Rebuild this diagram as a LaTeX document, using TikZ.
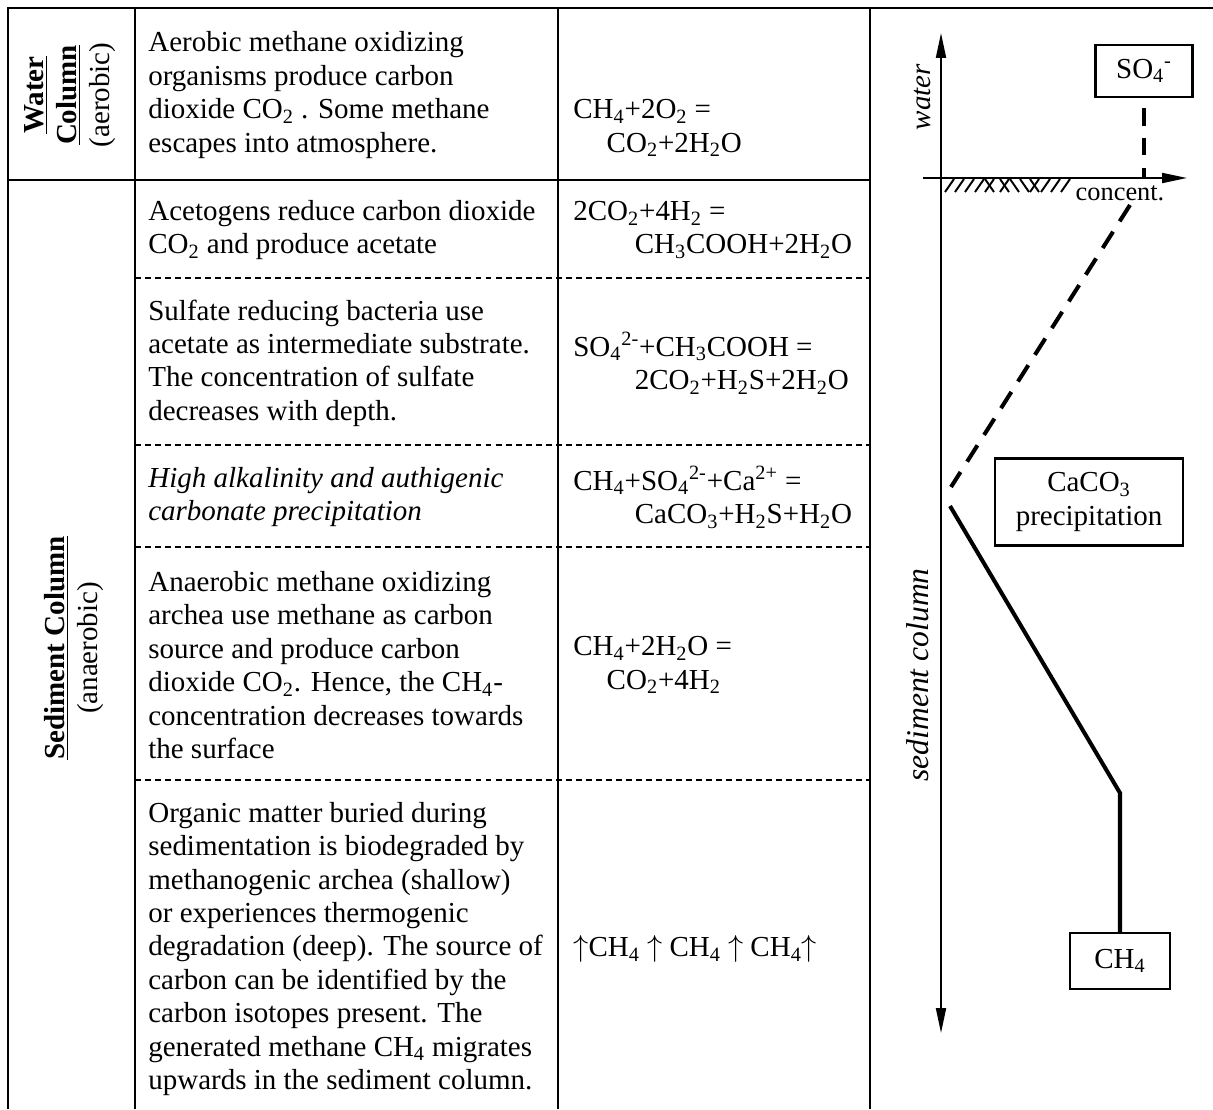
\documentclass[tikz,border=0pt]{standalone}
\usepackage{fontspec}
\setmainfont{Liberation Serif}
\usepackage{tikz}
\usetikzlibrary{arrows.meta,positioning}

\newcommand{\chsub}[1]{\textsubscript{#1}}
\newcommand{\chsup}[1]{\textsuperscript{#1}}
\newcommand{\bodyfont}{\fontsize{16.5}{19}\selectfont}

\begin{document}
\begin{tikzpicture}[x=0.02cm,y=-0.02cm,
    every node/.style={font=\bodyfont},
    txt/.style={align=left,anchor=west,inner sep=0pt},
    hd/.style={rotate=90,align=center,inner sep=0pt},
    box/.style={draw,line width=1.2pt,inner sep=0pt},
    sep/.style={line width=0.6pt,dash pattern=on 3.4pt off 2.3pt},
    prof/.style={line width=2.3pt},
    tip/.style={-{Triangle[length=0.5cm,width=0.2cm]}}]
    \useasboundingbox (0,0) rectangle (1213,1109);

    % Table frame
    \draw[line width=1.4pt] (8,1109) -- (8,8) -- (1213,8);
    \draw[line width=1.1pt] (135,8) -- (135,1109);
    \draw[line width=0.7pt] (558,8) -- (558,1109);
    \draw[line width=1.4pt] (870,8) -- (870,1109);
    \draw[line width=1.1pt] (8,180) -- (870,180);
    \foreach \y in {278,445,547,780}
        \draw[sep] (135,\y) -- (870,\y);

    % Row headers
    \node[hd] (water) at (70,95) {\underline{\textbf{Water}}\\\underline{\textbf{Column}}\\(aerobic)};
    \node[hd] (sediment) at (74,648) {\underline{\textbf{Sediment Column}}\\(anaerobic)};

    % Processes
    \node[txt] (t1) at (148,95) {Aerobic methane oxidizing\\organisms produce carbon\\dioxide CO\chsub{2} . Some methane\\escapes into atmosphere.};
    \node[txt] (t2) at (148,230) {Acetogens reduce carbon dioxide\\CO\chsub{2} and produce acetate};
    \node[txt] (t3) at (148,363) {Sulfate reducing bacteria use\\acetate as intermediate substrate.\\The concentration of sulfate\\decreases with depth.};
    \node[txt,font=\bodyfont\itshape] (t4) at (148,497) {High alkalinity and authigenic\\carbonate precipitation};
    \node[txt] (t5) at (148,665) {Anaerobic methane oxidizing\\archea use methane as carbon\\source and produce carbon\\dioxide CO\chsub{2}. Hence, the CH\chsub{4}-\\concentration decreases towards\\the surface};
    \node[txt] (t6) at (148,949) {Organic matter buried during\\sedimentation is biodegraded by\\methanogenic archea (shallow)\\or experiences thermogenic\\degradation (deep). The source of\\carbon can be identified by the\\carbon isotopes present. The\\generated methane CH\chsub{4} migrates\\upwards in the sediment column.};

    % Reactions
    \node[txt] (e1) at (573,128) {CH\chsub{4}+2O\chsub{2} =\\\hspace*{19pt}CO\chsub{2}+2H\chsub{2}O};
    \node[txt] (e2) at (573,230) {2CO\chsub{2}+4H\chsub{2} =\\\hspace*{35pt}CH\chsub{3}COOH+2H\chsub{2}O};
    \node[txt] (e3) at (573,363) {SO\chsub{4}\chsup{2-}+CH\chsub{3}COOH =\\\hspace*{35pt}2CO\chsub{2}+H\chsub{2}S+2H\chsub{2}O};
    \node[txt] (e4) at (573,497) {CH\chsub{4}+SO\chsub{4}\chsup{2-}+Ca\chsup{2+} =\\\hspace*{35pt}CaCO\chsub{3}+H\chsub{2}S+H\chsub{2}O};
    \node[txt] (e5) at (573,665) {CH\chsub{4}+2H\chsub{2}O =\\\hspace*{19pt}CO\chsub{2}+4H\chsub{2}};
    \node[txt] (e6) at (573,949) {$\uparrow$CH\chsub{4} $\uparrow$ CH\chsub{4} $\uparrow$ CH\chsub{4}$\uparrow$};

    % Concentration profile: axes
    \draw[line width=1.1pt,tip] (941,500) -- (941,33);
    \draw[line width=1.1pt,tip] (941,500) -- (941,1033);
    \draw[line width=1.1pt,tip] (923,178) -- (1187,178);
    \coordinate (axis) at (941,178);
    \foreach \x in {945,955,965,975,985,1000,1030,1041,1051,1061}
        \draw[line width=1.1pt] (\x,192) -- (\x+9,179);
    \foreach \x in {985,1000,1010,1020,1030}
        \draw[line width=1.1pt] (\x,179) -- (\x+9,192);
    \node[rotate=90,font=\bodyfont\itshape] (wlab) at (922,97) {water};
    \node[rotate=90,font=\fontsize{18}{20}\selectfont\itshape] (slab) at (918,675) {sediment column};
    \node[font=\fontsize{15}{18}\selectfont] (conc) at (1120,193) {concent.};

    % Sulfate and methane
    \node[box,minimum width=1.94cm,minimum height=1.04cm] (so4) at (1144,71) {SO\chsub{4}\chsup{-}};
    \node[box,align=center,minimum width=3.76cm,minimum height=1.74cm] (caco3) at (1089,502) {CaCO\chsub{3}\\precipitation};
    \node[box,minimum width=2cm,minimum height=1.12cm] (ch4) at (1120,961) {CH\chsub{4}};
    \coordinate (s1) at (1130,205);
    \coordinate (s2) at (951,487);
    \coordinate (m1) at (950,506);
    \coordinate (m2) at (1120,793);

    \draw[prof,dash pattern=on 10pt off 7pt] ([yshift=-0.2cm]so4.south) -- (so4.south |- axis);
    \draw[prof,dash pattern=on 11pt off 7pt] (s1) -- (s2);
    \draw[prof] (ch4.north) -- (m2) -- (m1);
\end{tikzpicture}
\end{document}
